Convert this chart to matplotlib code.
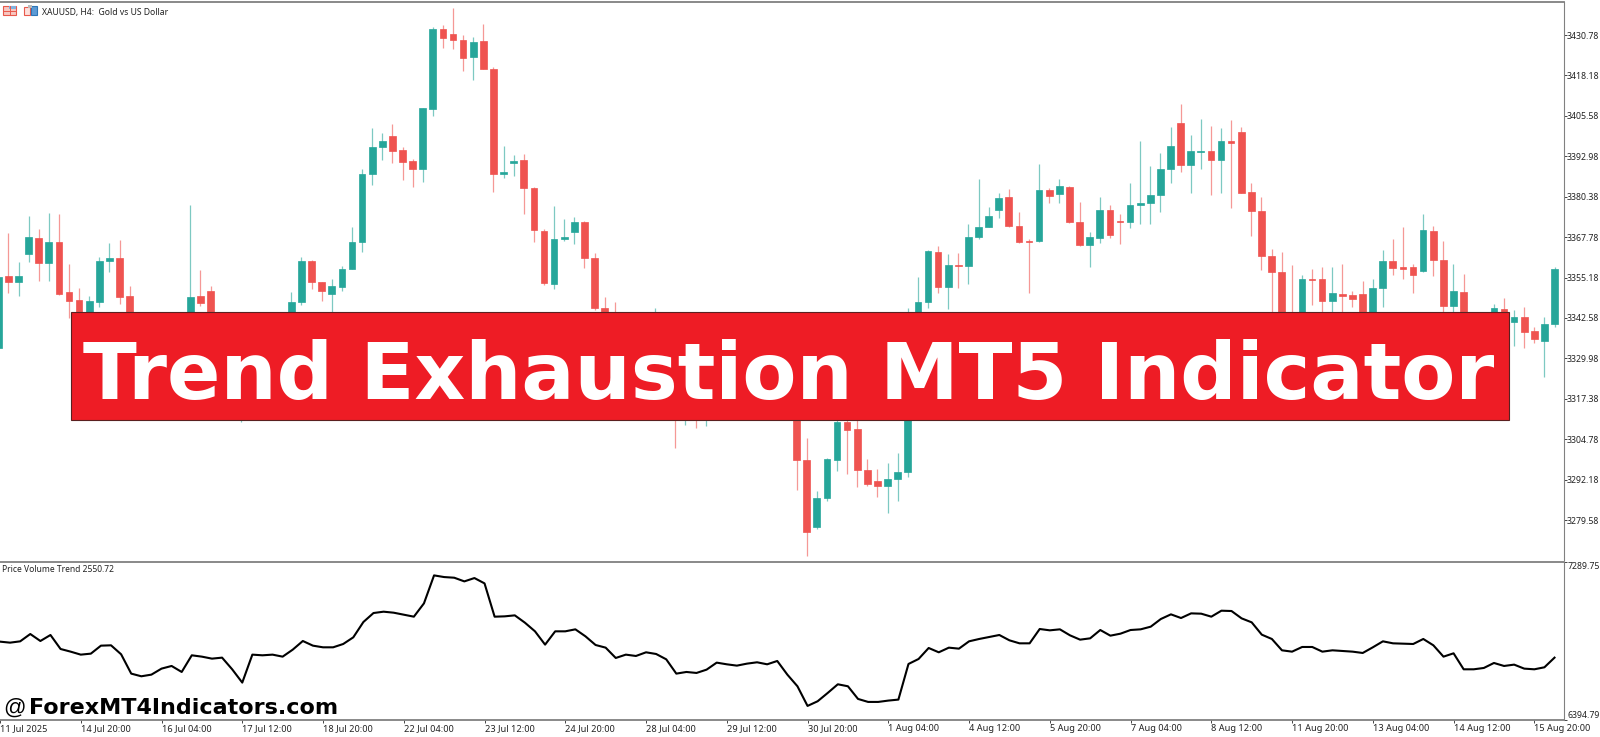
import numpy as np
import matplotlib
matplotlib.use("Agg")
import matplotlib.pyplot as plt
from matplotlib.patches import Rectangle

# XAUUSD H4 candles (bars behind the banner are estimates)
opens = [
    3333.2, 3355.7, 3353.8, 3362.5, 3367.5, 3359.7, 3366.3, 3350.7, 3348.2, 3341.3,
    3347.6, 3360.3, 3361.3, 3349.4, 3342.0, 3337.3, 3340.4, 3334.2, 3338.8, 3340.4,
    3349.4, 3351.0, 3338.8, 3331.0, 3323.3, 3329.5, 3334.2, 3332.6, 3337.3, 3342.0,
    3347.6, 3360.3, 3353.8, 3350.0, 3352.2, 3357.8, 3366.3, 3387.5, 3395.9, 3399.3,
    3394.9, 3391.5, 3389.0, 3407.7, 3432.6, 3431.1, 3429.2, 3423.9, 3428.9, 3420.2,
    3387.5, 3390.9, 3391.8, 3383.1, 3369.7, 3353.2, 3367.2, 3369.4, 3372.5, 3361.3,
    3345.7, 3340.4, 3334.2, 3337.3, 3331.0, 3326.4, 3332.6, 3324.8, 3318.6, 3323.3,
    3317.0, 3321.7, 3318.6, 3323.3, 3320.1, 3326.4, 3323.3, 3327.9, 3324.8, 3321.7,
    3298.3, 3277.4, 3286.5, 3298.3, 3310.2, 3308.0, 3295.2, 3291.8, 3290.2, 3292.4,
    3294.6, 3338.8, 3347.6, 3363.1, 3352.2, 3359.1, 3358.8, 3367.8, 3370.9, 3376.2,
    3380.3, 3371.2, 3366.6, 3366.6, 3382.5, 3381.2, 3383.4, 3372.5, 3365.3, 3367.5,
    3376.2, 3372.8, 3372.5, 3377.8, 3378.4, 3380.9, 3389.0, 3403.4, 3390.3, 3394.3,
    3394.6, 3391.8, 3397.7, 3400.5, 3381.9, 3375.9, 3361.9, 3356.9, 3340.4, 3335.7,
    3354.7, 3354.7, 3347.9, 3350.0, 3349.7, 3350.0, 3343.5, 3351.9, 3360.3, 3358.5,
    3358.5, 3357.2, 3369.7, 3360.7, 3346.3, 3350.7, 3340.4, 3335.7, 3342.0, 3345.4,
    3341.3, 3342.9, 3338.5, 3335.4, 3340.7,
]
highs = [
    3355.4, 3369.1, 3360.0, 3374.4, 3370.3, 3375.3, 3375.0, 3359.4, 3351.9, 3349.4,
    3361.6, 3365.9, 3366.9, 3352.6, 3343.2, 3342.6, 3342.0, 3341.3, 3342.6, 3377.8,
    3357.5, 3352.6, 3341.3, 3334.2, 3332.6, 3337.3, 3336.3, 3340.4, 3343.2, 3350.7,
    3361.6, 3360.7, 3353.8, 3354.7, 3358.8, 3370.9, 3389.0, 3401.8, 3400.2, 3403.0,
    3395.9, 3392.1, 3408.0, 3433.3, 3433.9, 3439.2, 3430.8, 3430.2, 3434.2, 3420.8,
    3396.2, 3393.4, 3393.7, 3383.4, 3370.3, 3377.5, 3373.4, 3374.0, 3372.8, 3362.8,
    3349.1, 3347.6, 3342.0, 3341.3, 3337.3, 3345.7, 3337.3, 3329.5, 3327.9, 3326.4,
    3324.8, 3324.8, 3326.4, 3325.8, 3329.5, 3329.5, 3331.0, 3330.1, 3327.9, 3324.8,
    3305.2, 3288.6, 3298.9, 3312.3, 3313.3, 3310.8, 3298.6, 3295.5, 3297.4, 3300.5,
    3345.7, 3355.4, 3363.8, 3365.0, 3362.5, 3362.8, 3371.9, 3385.9, 3377.2, 3381.5,
    3382.8, 3375.6, 3367.2, 3390.6, 3383.1, 3385.9, 3383.7, 3378.7, 3369.4, 3380.3,
    3377.8, 3375.0, 3384.7, 3397.7, 3389.9, 3394.0, 3402.1, 3409.3, 3399.6, 3404.6,
    3402.4, 3401.8, 3404.3, 3402.1, 3384.7, 3380.3, 3364.1, 3363.1, 3359.1, 3356.0,
    3357.8, 3358.5, 3358.5, 3359.4, 3351.0, 3354.1, 3354.7, 3363.8, 3367.2, 3370.9,
    3359.4, 3375.0, 3371.2, 3366.6, 3359.4, 3356.3, 3342.6, 3343.2, 3346.9, 3348.8,
    3345.1, 3346.0, 3339.8, 3342.9, 3358.5,
]
lows = [
    3333.2, 3350.4, 3349.4, 3360.0, 3354.1, 3354.1, 3349.7, 3342.6, 3340.4, 3339.5,
    3346.0, 3356.9, 3346.9, 3340.4, 3335.7, 3335.1, 3332.0, 3332.6, 3336.3, 3338.8,
    3346.3, 3337.0, 3328.9, 3318.6, 3310.2, 3326.4, 3330.1, 3330.7, 3335.7, 3340.4,
    3346.6, 3351.6, 3347.9, 3344.4, 3351.0, 3357.8, 3363.1, 3384.0, 3391.8, 3390.9,
    3385.6, 3383.4, 3385.0, 3405.5, 3426.7, 3426.4, 3419.6, 3416.8, 3420.2, 3381.9,
    3386.2, 3386.8, 3375.0, 3366.3, 3352.9, 3351.6, 3366.6, 3365.6, 3358.2, 3345.1,
    3338.2, 3332.0, 3332.6, 3329.5, 3323.3, 3324.8, 3321.7, 3302.1, 3309.2, 3308.3,
    3308.9, 3315.4, 3316.4, 3317.0, 3318.6, 3319.5, 3320.8, 3322.6, 3318.6, 3289.0,
    3268.4, 3276.8, 3285.5, 3294.9, 3293.9, 3289.9, 3290.2, 3286.8, 3281.8, 3285.5,
    3293.0, 3336.3, 3345.7, 3350.4, 3345.4, 3351.9, 3353.2, 3367.2, 3370.9, 3373.7,
    3370.9, 3365.9, 3350.4, 3366.3, 3378.4, 3378.4, 3372.2, 3365.0, 3358.5, 3365.9,
    3367.5, 3365.6, 3370.6, 3371.9, 3371.9, 3375.6, 3384.7, 3388.1, 3381.5, 3389.0,
    3380.9, 3381.5, 3376.9, 3381.5, 3368.1, 3357.5, 3342.0, 3337.3, 3332.6, 3334.2,
    3346.6, 3342.6, 3340.4, 3341.3, 3346.0, 3342.0, 3341.3, 3346.0, 3356.0, 3354.7,
    3350.4, 3356.9, 3355.7, 3342.6, 3342.6, 3338.2, 3334.2, 3334.2, 3340.4, 3340.4,
    3333.9, 3333.2, 3334.8, 3324.2, 3339.8,
]
closes = [
    3355.4, 3353.8, 3355.7, 3367.8, 3359.7, 3366.3, 3350.0, 3347.9, 3342.6, 3347.9,
    3360.3, 3361.3, 3349.1, 3342.0, 3337.3, 3340.4, 3334.2, 3338.8, 3340.4, 3349.1,
    3347.2, 3338.8, 3331.0, 3323.3, 3329.5, 3334.2, 3332.6, 3337.3, 3340.4, 3347.6,
    3360.3, 3353.8, 3351.0, 3352.6, 3357.8, 3366.3, 3387.5, 3395.9, 3397.7, 3394.6,
    3391.2, 3389.0, 3408.0, 3432.6, 3429.8, 3429.2, 3423.6, 3428.6, 3420.2, 3387.5,
    3388.1, 3391.5, 3383.1, 3370.0, 3353.5, 3367.2, 3367.8, 3372.5, 3361.3, 3345.7,
    3340.4, 3334.2, 3337.3, 3331.0, 3326.4, 3332.6, 3324.8, 3318.6, 3323.3, 3317.0,
    3321.7, 3318.6, 3323.3, 3320.1, 3326.4, 3323.3, 3327.9, 3324.8, 3321.7, 3298.3,
    3275.9, 3286.5, 3298.6, 3310.2, 3307.7, 3295.2, 3290.8, 3290.2, 3292.4, 3294.6,
    3338.8, 3347.6, 3363.5, 3352.2, 3359.1, 3358.8, 3367.8, 3370.9, 3374.4, 3380.0,
    3371.2, 3366.3, 3366.3, 3382.5, 3380.6, 3383.7, 3372.5, 3365.3, 3367.8, 3376.2,
    3368.4, 3372.5, 3377.8, 3378.4, 3380.9, 3389.0, 3396.2, 3390.3, 3394.6, 3394.6,
    3391.8, 3397.7, 3397.1, 3381.5, 3375.9, 3361.9, 3356.9, 3340.4, 3335.7, 3354.7,
    3354.4, 3347.9, 3350.4, 3349.4, 3348.5, 3343.5, 3351.9, 3360.3, 3358.2, 3357.8,
    3356.0, 3370.0, 3360.7, 3346.3, 3351.0, 3340.4, 3335.7, 3342.0, 3345.7, 3342.6,
    3342.9, 3338.2, 3336.0, 3340.7, 3357.8,
]

# Price Volume Trend line
pvt = [
    6838.8, 6833.1, 6840.6, 6882.1, 6842.5, 6876.5, 6797.2, 6782.1, 6765.2, 6770.8,
    6816.1, 6818.0, 6767.1, 6657.6, 6642.5, 6651.9, 6685.9, 6701.0, 6667.0, 6761.4,
    6753.8, 6742.5, 6748.2, 6682.1, 6606.7, 6765.2, 6761.4, 6765.2, 6753.8, 6793.5,
    6842.5, 6816.1, 6806.7, 6806.7, 6825.5, 6863.3, 6950.1, 7001.0, 7008.6, 7002.9,
    6991.6, 6980.3, 7055.8, 7214.3, 7204.8, 7201.1, 7180.3, 7199.2, 7169.0, 6980.3,
    6982.2, 6987.8, 6946.3, 6897.3, 6821.8, 6897.3, 6897.3, 6908.6, 6868.9, 6819.9,
    6804.8, 6746.3, 6765.2, 6757.6, 6778.4, 6768.9, 6738.7, 6657.6, 6667.0, 6661.4,
    6680.2, 6719.9, 6710.4, 6702.9, 6714.2, 6721.8, 6710.4, 6729.3, 6651.9, 6585.9,
    6474.6, 6501.0, 6548.2, 6597.2, 6585.9, 6514.2, 6497.2, 6497.2, 6504.8, 6510.4,
    6712.3, 6740.6, 6802.9, 6778.4, 6804.8, 6799.1, 6840.6, 6853.9, 6865.2, 6876.5,
    6846.3, 6829.3, 6829.3, 6910.5, 6902.9, 6908.6, 6874.6, 6850.1, 6857.6, 6904.8,
    6872.7, 6884.0, 6904.8, 6908.6, 6923.7, 6967.1, 6993.5, 6972.7, 6999.1, 6997.3,
    6980.3, 7014.2, 7012.4, 6970.8, 6948.2, 6878.4, 6853.9, 6789.7, 6782.1, 6808.6,
    6808.6, 6782.1, 6789.7, 6785.9, 6782.1, 6774.6, 6806.7, 6840.6, 6829.3, 6827.4,
    6825.5, 6853.9, 6818.0, 6753.8, 6772.7, 6682.1, 6682.1, 6689.7, 6718.0, 6701.0,
    6708.6, 6685.9, 6682.1, 6693.5, 6748.2,
]

price_ticks = [3430.78, 3418.18, 3405.58, 3392.98, 3380.38, 3367.78, 3355.18,
               3342.58, 3329.98, 3317.38, 3304.78, 3292.18, 3279.58]
pvt_ticks = [7289.75, 6394.79]
time_labels = ["11 Jul 2025", "14 Jul 20:00", "16 Jul 04:00", "17 Jul 12:00", "18 Jul 20:00",
               "22 Jul 04:00", "23 Jul 12:00", "24 Jul 20:00", "28 Jul 04:00", "29 Jul 12:00",
               "30 Jul 20:00", "1 Aug 04:00", "4 Aug 12:00", "5 Aug 20:00", "7 Aug 04:00",
               "8 Aug 12:00", "11 Aug 20:00", "13 Aug 04:00", "14 Aug 12:00", "15 Aug 20:00"]

GREEN = "#26A69A"
RED = "#EF5350"
AXIS_GREY = "#808080"
UI_FONT = "Noto Sans"

W, H = 1600, 737
fig = plt.figure(figsize=(W / 100, H / 100), dpi=100, facecolor="white")


def pane(top, bottom, right=1563.5):
    return fig.add_axes([0, 1 - bottom / H, right / W, (bottom - top) / H])


ax = pane(2, 560)
ax_pvt = pane(561.5, 720)

x = np.arange(len(closes))
xlim = (0.168, 154.89)

# candles
opens_a, closes_a = np.array(opens), np.array(closes)
up = closes_a >= opens_a
colors = [GREEN if u else RED for u in up]
ax.vlines(x, lows, highs, colors=colors, linewidth=0.9, alpha=0.6, zorder=2)
ax.bar(x, np.abs(closes_a - opens_a), bottom=np.minimum(opens_a, closes_a), width=0.66,
       color=colors, edgecolor=colors, linewidth=0.5, zorder=3)
ax.set_xlim(xlim)
ax.set_ylim(3267.14, 3441.07)

# indicator pane
ax_pvt.plot(x, pvt, color="black", linewidth=1.5)
ax_pvt.set_xlim(xlim)
ax_pvt.set_ylim(6394.79, 7293.0)

for a in (ax, ax_pvt):
    for side in ("left", "bottom", "top", "right"):
        a.spines[side].set_visible(False)
    a.spines["right"].set_visible(True)
    a.spines["right"].set_color(AXIS_GREY)
    a.spines["top"].set_visible(True)
    a.spines["top"].set_color(AXIS_GREY)
    a.spines["top"].set_linewidth(1.3)
    a.yaxis.tick_right()

ax.set_xticks([])
ax.set_yticks(price_ticks)
ax.set_yticklabels([f"{t:.2f}" for t in price_ticks])
ax.tick_params(axis="y", length=2, width=0.7, color="#444444", pad=0.6,
               labelsize=6.3, labelcolor="#222222")

ax_pvt.spines["bottom"].set_visible(True)
ax_pvt.spines["bottom"].set_color(AXIS_GREY)
ax_pvt.spines["bottom"].set_linewidth(1.3)
ax_pvt.set_yticks(pvt_ticks)
ax_pvt.set_yticklabels([f"{t:.2f}" for t in pvt_ticks])
ax_pvt.get_yticklabels()[0].set_va("top")
ax_pvt.get_yticklabels()[1].set_va("bottom")
ax_pvt.tick_params(axis="y", length=2, width=0.7, color="#444444", pad=0.6,
                   labelsize=6.3, labelcolor="#222222")
ax_pvt.set_xticks(x[::8])
ax_pvt.set_xticklabels(time_labels, ha="left")
ax_pvt.tick_params(axis="x", length=2, width=0.7, color="#444444", pad=1,
                   labelsize=6.6, labelcolor="#222222")
for lbl in ax.get_yticklabels() + ax_pvt.get_yticklabels() + ax_pvt.get_xticklabels():
    lbl.set_fontfamily(UI_FONT)

# overlay in pixel coordinates for banner, captions and icons
ov = fig.add_axes([0, 0, 1, 1], facecolor="none", zorder=10)
ov.set_xlim(0, W)
ov.set_ylim(H, 0)
ov.axis("off")

ov.add_patch(Rectangle((71, 312), 1438, 107.5, facecolor="#EE1C25", edgecolor="#5a2020", linewidth=0.8))
ov.text(83, 398.7, "Trend Exhaustion MT5 Indicator", color="white", fontsize=56.8, fontweight="bold",
        family="DejaVu Sans", ha="left", va="baseline")

ov.text(3, 708, "@", color="black", fontsize=16, family="Liberation Sans", va="center")
ov.text(29, 708, "ForexMT4Indicators.com", color="black", fontsize=16, fontweight="bold",
        family="DejaVu Sans", va="center")

ov.text(42, 12, "XAUUSD, H4:  Gold vs US Dollar", color="#222222", fontsize=6.2, family=UI_FONT, va="center")
ov.text(2.5, 569.5, "Price Volume Trend 2550.72", color="#222222", fontsize=6.1, family=UI_FONT, va="center")

# little toolbar icons next to the symbol name
ov.add_patch(Rectangle((3, 6), 13, 9, facecolor="#f7c6c0", edgecolor="#E8594C", linewidth=0.8))
ov.add_patch(Rectangle((9, 6), 7, 3, facecolor="#7FB2E0", edgecolor="none"))
ov.plot([4, 15], [10.5, 10.5], color="#E8594C", linewidth=0.7)
ov.plot([9.5, 9.5], [6, 15], color="#E8594C", linewidth=0.7)
ov.add_patch(Rectangle((23.5, 7), 6, 8, facecolor="#fde0dc", edgecolor="#E8594C", linewidth=0.8))
ov.add_patch(Rectangle((31, 6), 6, 9, facecolor="#5D9BD5", edgecolor="#2E75B6", linewidth=0.8))
ov.add_patch(Rectangle((27.5, 5), 4, 3, facecolor="#bbbbbb", edgecolor="none"))

fig.savefig("out.png", dpi=100)
